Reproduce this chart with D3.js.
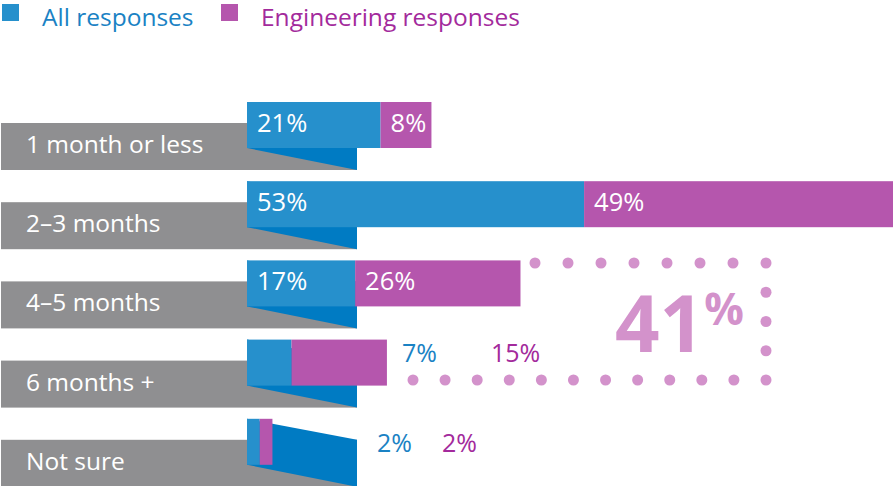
<!DOCTYPE html>
<html>
<head>
<meta charset="utf-8">
<script src="https://cdn.jsdelivr.net/npm/d3@7"></script>
<style>
  html, body { margin: 0; padding: 0; background: #fff; }
  svg { display: block; font-family: "Open Sans", "Noto Sans", sans-serif; }
</style>
</head>
<body>
<svg id="chart" width="893" height="486"></svg>
<script>
// Survey: how long it takes to fill a role
const categories = ["1 month or less", "2\u20133 months", "4\u20135 months", "6 months +", "Not sure"];
const allResponses = [21, 53, 17, 7, 2];
const engineeringResponses = [8, 49, 26, 15, 2];
const seriesNames = ["All responses", "Engineering responses"];
const highlightValue = 41;

const colors = {
  all: "#2690cc",
  allDark: "#007bc3",
  eng: "#b556ad",
  allText: "#1a82c4",
  engText: "#a32a9c",
  gray: "#8f8f91",
  dots: "#d392cb"
};

const svg = d3.select("#chart");

const x = d3.scaleLinear().domain([0, 100]).range([247, 883]);
const y = d3.scaleBand().domain(categories).range([102, 498]).paddingInner(0);
const barH = 46;
const grayOffset = 21, grayH = 47, grayRight = 357;

// Legend
const legend = svg.append("g");
const legendItems = [
  { name: seriesNames[0], fill: colors.all, text: colors.allText, x: 2 },
  { name: seriesNames[1], fill: colors.eng, text: colors.engText, x: 221 }
];
legendItems.forEach(d => {
  legend.append("rect").attr("x", d.x).attr("y", 4).attr("width", 17).attr("height", 17).attr("fill", d.fill);
  legend.append("text").attr("x", d.x + 40).attr("y", 26)
    .attr("font-size", 24.5).attr("fill", d.text).text(d.name);
});

const rows = svg.append("g").selectAll("g").data(categories).join("g");

// gray label boxes
rows.append("rect")
  .attr("x", 1)
  .attr("y", d => y(d) + grayOffset)
  .attr("width", grayRight - 1)
  .attr("height", grayH)
  .attr("fill", colors.gray);

// dark-blue connector from bar start to the label box edge
rows.append("path")
  .attr("fill", colors.allDark)
  .attr("d", d => {
    const t = y(d);
    return `M${x(0)},${t}L${grayRight},${t + grayOffset}L${grayRight},${t + grayOffset + grayH}L${x(0)},${t + barH}Z`;
  });

rows.append("text")
  .attr("x", 26)
  .attr("y", d => y(d) + grayOffset + 30)
  .attr("font-size", 24.5)
  .attr("fill", "#fff")
  .text(d => d);

// stacked bars
rows.append("rect")
  .attr("x", x(0))
  .attr("y", d => y(d))
  .attr("width", (d, i) => x(allResponses[i]) - x(0))
  .attr("height", barH)
  .attr("fill", colors.all);

rows.append("rect")
  .attr("x", (d, i) => x(allResponses[i]))
  .attr("y", d => y(d))
  .attr("width", (d, i) => x(allResponses[i] + engineeringResponses[i]) - x(allResponses[i]))
  .attr("height", barH)
  .attr("fill", colors.eng);

// value labels: inside the bar when it is wide enough, otherwise beside it
const outsideLayout = { 3: { dx: 15, gap: 89, dy: 22 }, 4: { dx: 20, gap: 65, dy: 33 } };
categories.forEach((c, i) => {
  const t = y(c);
  const a = allResponses[i], e = engineeringResponses[i];
  if (outsideLayout[i]) {
    const L = outsideLayout[i];
    const bx = Math.max(x(a + e), grayRight) + L.dx;
    svg.append("text").attr("x", bx).attr("y", t + L.dy).attr("font-size", 25)
      .attr("fill", colors.allText).text(a + "%");
    svg.append("text").attr("x", bx + L.gap).attr("y", t + L.dy).attr("font-size", 25)
      .attr("fill", colors.engText).text(e + "%");
  } else {
    svg.append("text").attr("x", x(0) + 10).attr("y", t + 30).attr("font-size", 25.5)
      .attr("fill", "#fff").text(a + "%");
    svg.append("text").attr("x", x(a) + 10).attr("y", t + 30).attr("font-size", 25.5)
      .attr("fill", "#fff").text(e + "%");
  }
});

// dotted callout frame
const dots = [];
const frameRight = 766, frameTop = 263, frameBottom = 380;
d3.range(8).forEach(k => dots.push([535 + k * 33, frameTop]));
d3.range(12).forEach(k => dots.push([413 + k * (frameRight - 413) / 11, frameBottom]));
d3.range(1, 4).forEach(k => dots.push([frameRight, frameTop + k * (frameBottom - frameTop) / 4]));
svg.append("g").selectAll("circle").data(dots).join("circle")
  .attr("cx", d => d[0]).attr("cy", d => d[1]).attr("r", 5.5).attr("fill", colors.dots);

const big = svg.append("text").attr("x", 615).attr("y", 352).attr("fill", colors.dots)
  .attr("font-weight", 700);
big.append("tspan").attr("font-size", 78).text(highlightValue);
big.append("tspan").attr("font-size", 44).attr("dx", 0).attr("dy", -27).text("%");
</script>
</body>
</html>
